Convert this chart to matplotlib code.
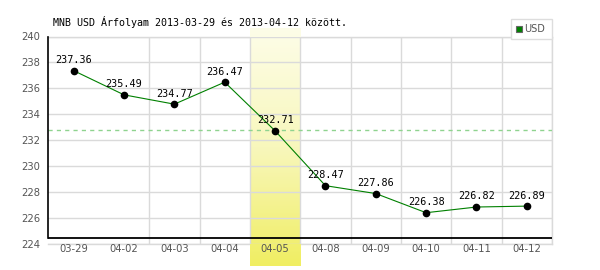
import numpy as np
import matplotlib
matplotlib.use('Agg')
import matplotlib.pyplot as plt
from matplotlib.patches import Rectangle
from matplotlib.colors import LinearSegmentedColormap

# MNB USD exchange rate, 2013-03-29 .. 2013-04-12
dates = ['03-29', '04-02', '04-03', '04-04', '04-05',
         '04-08', '04-09', '04-10', '04-11', '04-12']
usd = [237.36, 235.49, 234.77, 236.47, 232.71,
       228.47, 227.86, 226.38, 226.82, 226.89]
ref_level = 232.75
highlight = '04-05'
y_ticks = list(range(224, 241, 2))

W, H = 600, 270


def main():
    fig = plt.figure(figsize=(W / 100, H / 100), dpi=100)
    left, right, top, bottom = 48.5, 552, 36.5, 243.5
    ax = fig.add_axes([left / W, 1 - bottom / H, (right - left) / W, (bottom - top) / H])
    ax.set_facecolor('white')

    x = np.arange(len(dates))
    ymin, ymax = y_ticks[0], y_ticks[-1]
    px = (bottom - top) / (ymax - ymin)  # pixels per unit

    # grid
    ax.set_xticks(x)
    ax.set_xticklabels(dates)
    ax.set_xticks(x[1:] + 0.5, minor=True)
    ax.set_yticks(y_ticks)
    ax.grid(True, which='minor', axis='x', color='#dadada', lw=1.0, zorder=0)
    ax.grid(True, which='major', axis='y', color='#dadada', lw=1.0, zorder=0)
    ax.grid(False, which='major', axis='x')
    ax.tick_params(which='both', length=0)
    ax.tick_params(axis='x', pad=0.5, labelsize=7.2, labelcolor='#555555')
    ax.tick_params(axis='y', pad=6, labelsize=7.2, labelcolor='#555555')

    # highlighted day, gradient band
    hi = dates.index(highlight)
    cmap = LinearSegmentedColormap.from_list('band', ['#fdfde8', '#f8f7bc', '#f0ee62'])
    grad = np.linspace(0, 1, 256).reshape(-1, 1)
    band_top = ymax + (top - 28) / px
    band_bot = ymin - (266 - bottom) / px
    ax.imshow(grad, cmap=cmap, aspect='auto', origin='upper',
              extent=[hi - 0.5, hi + 0.5, band_bot, band_top],
              zorder=1, clip_on=False, interpolation='bilinear')

    ax.axhline(ref_level, color='#8fd38f', lw=1.0, ls=(0, (3, 3)), zorder=2)

    ax.plot(x, usd, color='#008000', lw=0.8, zorder=3)
    ax.plot(x, usd, 'o', color='black', ms=4.5, zorder=4)
    for xi, v in zip(x, usd):
        ax.annotate('{:.2f}'.format(v), (xi, v), xytext=(0, 4), textcoords='offset points',
                    ha='center', va='bottom', family='DejaVu Sans Mono', size=7.3,
                    color='black', zorder=5)

    ax.set_xlim(-0.5, len(dates) - 0.5)
    ax.set_ylim(ymin, ymax)

    # axes lines
    base = ymin + (bottom - 238) / px
    for s in ['top', 'right', 'bottom']:
        ax.spines[s].set_visible(False)
    ax.spines['left'].set_color('black')
    ax.spines['left'].set_linewidth(1.2)
    ax.spines['left'].set_bounds(base, ymax)
    ax.spines['left'].set_zorder(6)
    ax.axhline(base, color='black', lw=1.3, zorder=6)
    ax.axvline(len(dates) - 0.5, color='#dadada', lw=1.0, zorder=0, clip_on=False)
    ax.axhline(ymax, color='#dadada', lw=1.0, zorder=0, clip_on=False)
    ax.axhline(ymin, color='#dadada', lw=1.0, zorder=0.5, clip_on=False)

    fig.text(53 / W, 1 - 22.5 / H, 'MNB USD Árfolyam 2013-03-29 és 2013-04-12 között.',
             family='DejaVu Sans Mono', size=7.2, va='center', ha='left')

    # legend box
    fig.add_artist(Rectangle((511 / W, 1 - 38.5 / H), 41 / W, 20 / H,
                             transform=fig.transFigure, facecolor='white',
                             edgecolor='#dddddd', lw=1.0))
    fig.add_artist(Rectangle((515.5 / W, 1 - 32 / H), 6 / W, 6 / H,
                             transform=fig.transFigure, facecolor='#008000',
                             edgecolor='#666666', lw=0.8))
    fig.text(524.5 / W, 1 - 29 / H, 'USD', size=7, color='#555555', va='center', ha='left')

    fig.savefig('out.png', dpi=100)


if __name__ == '__main__':
    main()
